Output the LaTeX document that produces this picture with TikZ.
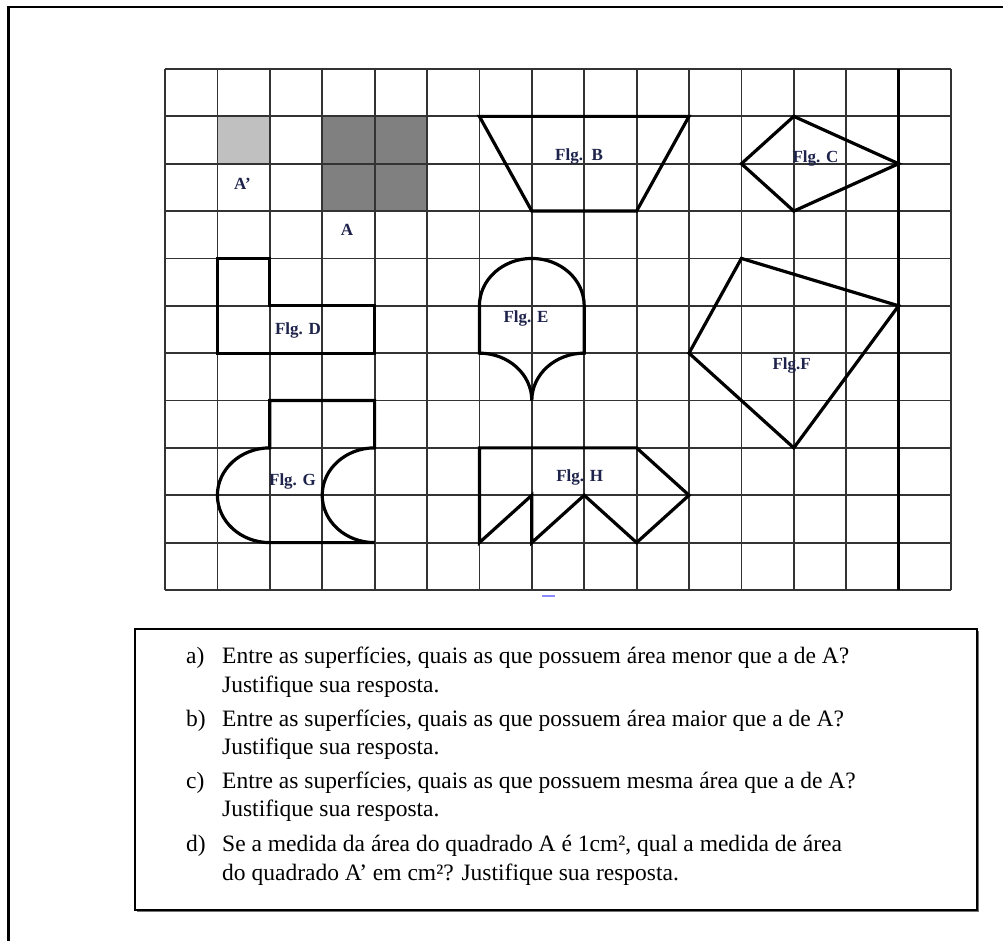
\documentclass[tikz,border=0pt]{standalone}
\usepackage{fontspec}
\setmainfont{Liberation Serif}
\definecolor{figblue}{RGB}{30,35,75}
\definecolor{lightA}{RGB}{192,192,192}
\definecolor{darkA}{RGB}{128,128,128}
\tikzset{
  gridline/.style={line width=1.8pt, draw=black!80},
  outline/.style={line width=3.2pt, draw=black, line join=miter},
  figlabel/.style={font=\bfseries\fontsize{17}{20}\selectfont, text=figblue, inner sep=0pt},
  qtext/.style={anchor=base west, inner sep=0pt, font=\fontsize{23.5}{28}\selectfont}
}
\begin{document}
\begin{tikzpicture}[x=1pt,y=-1pt]
\useasboundingbox (0,0) rectangle (1003,941);
\fill[white] (0,0) rectangle (1003,941);
% outer frame (top and left visible)
\draw[line width=2.5pt] (8.5,941) -- (8.5,7) -- (1003,7);

\begin{scope}[xshift=165pt,yshift=-69pt,x=52.4pt,y=-47.36pt]
  % shaded squares
  \fill[lightA] (1,1) rectangle (2,2);
  \fill[darkA] (3,1) rectangle (5,3);
  % grid
  \foreach \i in {0,...,15} \draw[gridline] (\i,0) -- (\i,11);
  \foreach \j in {0,...,11} \draw[gridline] (0,\j) -- (15,\j);
  \draw[line width=3pt] (14,0) -- (14,11);
  % Fig B
  \draw[outline] (6,1) -- (10,1) -- (9,3) -- (7,3) -- cycle;
  % Fig C
  \draw[outline] (12,1) -- (14,2) -- (12,3) -- (11,2) -- cycle;
  % Fig D
  \draw[outline] (1,4) -- (2,4) -- (2,5) -- (4,5) -- (4,6) -- (1,6) -- cycle;
  % Fig E
  \draw[outline] (6,6) -- (6,5)
     .. controls (6,4.4477) and (6.4477,4) .. (7,4)
     .. controls (7.5523,4) and (8,4.4477) .. (8,5)
     -- (8,6)
     .. controls (7.4477,6) and (7,6.4477) .. (7,7)
     .. controls (7,6.4477) and (6.5523,6) .. (6,6) -- cycle;
  % Fig F
  \draw[outline] (11,4) -- (14,5) -- (12,8) -- (10,6) -- cycle;
  % Fig G
  \draw[outline] (2,8) -- (2,7) -- (4,7) -- (4,8)
     .. controls (3.4477,8) and (3,8.4477) .. (3,9)
     .. controls (3,9.5523) and (3.4477,10) .. (4,10)
     -- (2,10)
     .. controls (1.4477,10) and (1,9.5523) .. (1,9)
     .. controls (1,8.4477) and (1.4477,8) .. (2,8) -- cycle;
  % Fig H
  \draw[outline] (6,8) -- (9,8) -- (10,9) -- (9,10) -- (8,9) -- (7,10) -- (7,9) -- (6,10) -- cycle;
\end{scope}

% labels
\node[figlabel] (lAp) at (242.5,184) {A’};
\node[figlabel] (lA) at (347,230) {A};
\node[figlabel] (lB) at (579,156) {Flg.\ \ B};
\node[figlabel] (lC) at (815.5,158) {Flg. C};
\node[figlabel] (lD) at (298,330) {Flg. D};
\node[figlabel] (lE) at (526,318) {Flg. E};
\node[figlabel] (lF) at (791.7,365) {Flg.F};
\node[figlabel] (lG) at (292.5,481.5) {Flg. G};
\node[figlabel] (lH) at (579.7,477) {Flg. H};

% small blue mark under the grid
\draw[blue!45, line width=1.2pt] (542,596) -- (555,596);

% question box
\draw[line width=1pt, black!55] (137,911.8) -- (978.8,911.8) -- (978.8,631);
\draw[line width=1.6pt] (135,629) rectangle (977,910);

\node[qtext] (la) at (186,663) {a)};
\node[qtext] (ta1) at (222,663) {Entre as superfícies, quais as que possuem área menor que a de A?};
\node[qtext] (ta2) at (222,692) {Justifique sua resposta.};
\node[qtext] (lb) at (186,726) {b)};
\node[qtext] (tb1) at (222,726) {Entre as superfícies, quais as que possuem área maior que a de A?};
\node[qtext] (tb2) at (222,754) {Justifique sua resposta.};
\node[qtext] (lc) at (186,788) {c)};
\node[qtext] (tc1) at (222,788) {Entre as superfícies, quais as que possuem mesma área que a de A?};
\node[qtext] (tc2) at (222,816) {Justifique sua resposta.};
\node[qtext] (ld) at (186,851) {d)};
\node[qtext] (td1) at (222,851) {Se a medida da área do quadrado A é 1cm², qual a medida de área};
\node[qtext] (td2) at (222,880) {do quadrado A’ em cm²? Justifique sua resposta.};
\end{tikzpicture}
\end{document}
